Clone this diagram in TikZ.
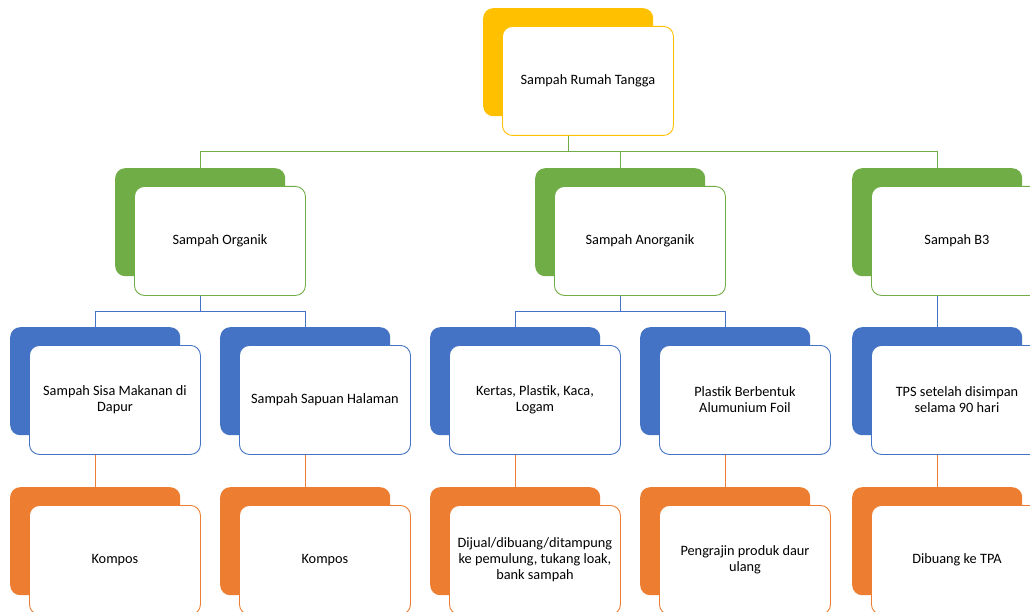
\documentclass[tikz,border=0pt]{standalone}
\usepackage{fontspec}
\setmainfont{Carlito}
\definecolor{cY}{HTML}{FFC000}
\definecolor{cG}{HTML}{70AD47}
\definecolor{cB}{HTML}{4472C4}
\definecolor{cO}{HTML}{ED7D31}
\tikzset{
  backbox/.style={rectangle, rounded corners=10pt, minimum width=170pt, minimum height=108pt, anchor=north west, inner sep=0pt, fill=#1},
  frontbox/.style={rectangle, rounded corners=10pt, minimum width=171pt, minimum height=109pt, anchor=north west, inner sep=2pt, draw=#1, fill=white, line width=0.9pt, align=center, font=\fontsize{14.3}{15.8}\selectfont},
  conn/.style={draw=#1, line width=0.9pt}
}
\newcommand\twinbox[5]{%
  \node[backbox=#4] (#1b) at (#2,#3) {};
  \node[frontbox=#4] (#1) at (#2+19,#3+18) {#5};
}
\begin{document}
\begin{tikzpicture}[x=1pt,y=-1pt]
\useasboundingbox (0,0) rectangle (1030,612);
\clip (0,0) rectangle (1030,612);
\fill[white] (0,0) rectangle (1030,612);
% level 1
\twinbox{top}{483}{8}{cY}{Sampah Rumah Tangga}
% level 2
\twinbox{org}{115}{168}{cG}{Sampah Organik}
\twinbox{ano}{535}{168}{cG}{Sampah Anorganik}
\twinbox{bt}{852}{168}{cG}{Sampah B3}
% level 3
\twinbox{sisa}{10}{327}{cB}{Sampah Sisa Makanan di\\Dapur}
\twinbox{sap}{220}{327}{cB}{Sampah Sapuan Halaman}
\twinbox{ker}{430}{327}{cB}{Kertas, Plastik, Kaca,\\Logam}
\twinbox{pla}{640}{327}{cB}{Plastik Berbentuk\\Alumunium Foil}
\twinbox{tps}{852}{327}{cB}{TPS setelah disimpan\\selama 90 hari}
% level 4
\twinbox{kA}{10}{487}{cO}{Kompos}
\twinbox{kB}{220}{487}{cO}{Kompos}
\twinbox{jual}{430}{487}{cO}{Dijual/dibuang/ditampung\\ke pemulung, tukang loak,\\bank sampah}
\twinbox{peng}{640}{487}{cO}{Pengrajin produk daur\\ulang}
\twinbox{tpa}{852}{487}{cO}{Dibuang ke TPA}
% connectors
\coordinate (m1) at (0,151);
\coordinate (m2) at (0,311);
\draw[conn=cG] (topb.center |- top.south) |- (orgb.north |- m1) -- (orgb.north);
\draw[conn=cG] (topb.center |- top.south) |- (anob.north |- m1) -- (anob.north);
\draw[conn=cG] (topb.center |- top.south) |- (btb.north |- m1) -- (btb.north);
\draw[conn=cB] (orgb.center |- org.south) |- (sisab.north |- m2) -- (sisab.north);
\draw[conn=cB] (orgb.center |- org.south) |- (sapb.north |- m2) -- (sapb.north);
\draw[conn=cB] (anob.center |- ano.south) |- (kerb.north |- m2) -- (kerb.north);
\draw[conn=cB] (anob.center |- ano.south) |- (plab.north |- m2) -- (plab.north);
\draw[conn=cB] (btb.center |- bt.south) -- (tpsb.north);
\draw[conn=cO] (sisab.center |- sisa.south) -- (kAb.north);
\draw[conn=cO] (sapb.center |- sap.south) -- (kBb.north);
\draw[conn=cO] (kerb.center |- ker.south) -- (jualb.north);
\draw[conn=cO] (plab.center |- pla.south) -- (pengb.north);
\draw[conn=cO] (tpsb.center |- tps.south) -- (tpab.north);
\end{tikzpicture}
\end{document}
